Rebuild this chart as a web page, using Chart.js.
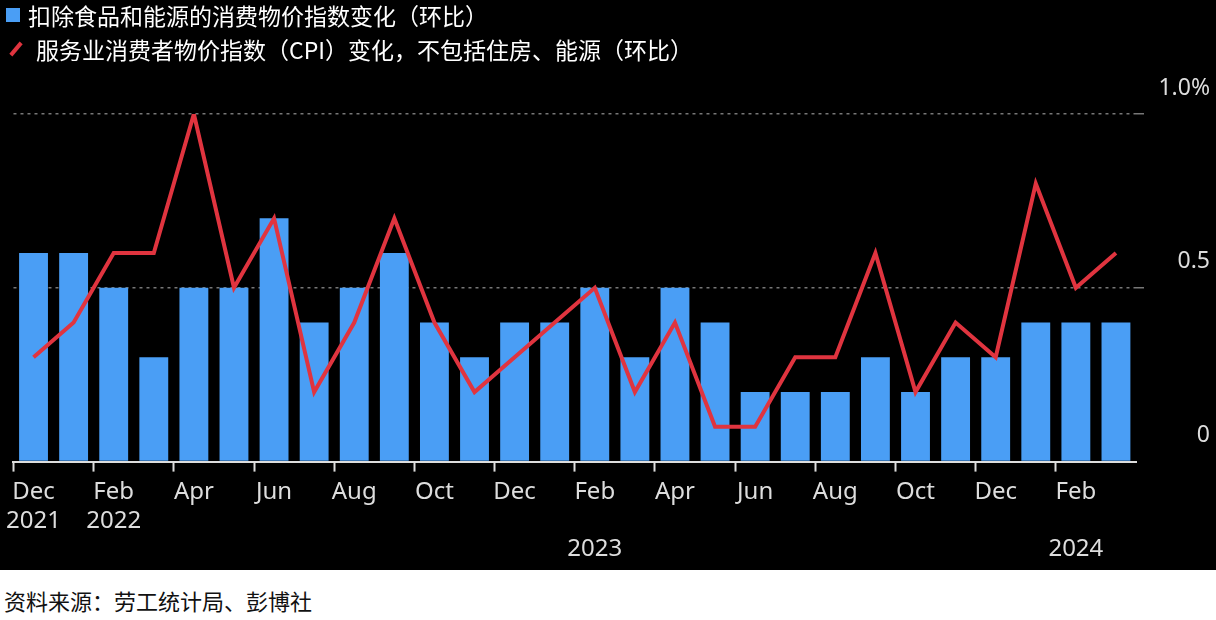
<!DOCTYPE html>
<html><head><meta charset="utf-8">
<script src="https://cdn.jsdelivr.net/npm/chart.js@4"></script>
<style>
body{margin:0;width:1216px;height:620px;background:#fff;font-family:"Noto Sans CJK SC","Noto Sans",sans-serif;overflow:hidden}
#top{position:absolute;left:0;top:0;width:1216px;height:570px;background:#000}
#wrap{position:absolute;left:0;top:0;width:1216px;height:570px}
.lg{position:absolute;left:6px;color:#fff;font-size:23px;line-height:30px;display:flex;align-items:center}
.sq{width:14px;height:14px;background:#4a9ef5;margin-right:8px}
.ln{width:16px;height:4px;background:#e0343f;transform:rotate(-50deg);margin-right:12px;margin-left:2px}
#src{position:absolute;left:4px;top:584px;font-size:22px;color:#111}
</style></head><body>
<div id="top"></div>
<div id="wrap"><canvas id="c" width="1216" height="570"></canvas></div>
<div class="lg" style="top:0px"><div class="sq"></div>扣除食品和能源的消费物价指数变化（环比）</div>
<div class="lg" style="top:34px"><div class="ln"></div>服务业消费者物价指数（CPI）变化，不包括住房、能源（环比）</div>
<div id="src">资料来源：劳工统计局、彭博社</div>
<script>
const months=["Dec 2021","Jan 2022","Feb 2022","Mar 2022","Apr 2022","May 2022","Jun 2022","Jul 2022","Aug 2022","Sep 2022","Oct 2022","Nov 2022","Dec 2022","Jan 2023","Feb 2023","Mar 2023","Apr 2023","May 2023","Jun 2023","Jul 2023","Aug 2023","Sep 2023","Oct 2023","Nov 2023","Dec 2023","Jan 2024","Feb 2024","Mar 2024"];
const tickLabels=[["Dec","2021"],"",["Feb","2022"],"","Apr","","Jun","","Aug","","Oct","","Dec","",["Feb","","2023"],"","Apr","","Jun","","Aug","","Oct","","Dec","",["Feb","","2024"],""];
const coreCPI=[0.6,0.6,0.5,0.3,0.5,0.5,0.7,0.4,0.5,0.6,0.4,0.3,0.4,0.4,0.5,0.3,0.5,0.4,0.2,0.2,0.2,0.3,0.2,0.3,0.3,0.4,0.4,0.4];
const superCore=[0.3,0.4,0.6,0.6,1.0,0.5,0.7,0.2,0.4,0.7,0.4,0.2,0.3,0.4,0.5,0.2,0.4,0.1,0.1,0.3,0.3,0.6,0.2,0.4,0.3,0.8,0.5,0.6];
const yLabels={0:"0",0.5:"0.5",1:"1.0%"};
new Chart(document.getElementById('c'),{
 data:{labels:months,datasets:[
  {type:'line',data:superCore,borderColor:'#e0343f',borderWidth:4,pointRadius:0,tension:0,order:0},
  {type:'bar',data:coreCPI,backgroundColor:'#4a9ef5',categoryPercentage:1,barPercentage:0.72,order:1}
 ]},
 options:{responsive:false,animation:false,
  layout:{padding:{top:114,left:4,right:6,bottom:0}},
  plugins:{legend:{display:false},tooltip:{enabled:false}},
  scales:{
   x:{grid:{display:true,drawOnChartArea:false,tickLength:10,tickWidth:2,color:(c)=>c.index%2===0?'#ddd':'rgba(0,0,0,0)'},
      border:{color:'#ddd',width:2},
      ticks:{autoSkip:false,maxRotation:0,color:'#ddd',font:{size:24,family:'"Noto Sans","Noto Sans CJK SC",sans-serif'},padding:6,callback:(v,i)=>tickLabels[i]}},
   y:{position:'right',min:0,max:1,
      afterFit:(s)=>{s.width=74},
      grid:{color:(c)=>c.tick.value===0?'rgba(0,0,0,0)':'#777',lineWidth:1.5},
      border:{display:false,dash:[3,4]},
      ticks:{stepSize:0.5,color:'#ddd',crossAlign:'far',labelOffset:-26,padding:8,font:{size:23,family:'"Noto Sans","Noto Sans CJK SC",sans-serif'},callback:(v)=>yLabels[v]??''}}
  }}
});
</script>
</body></html>
